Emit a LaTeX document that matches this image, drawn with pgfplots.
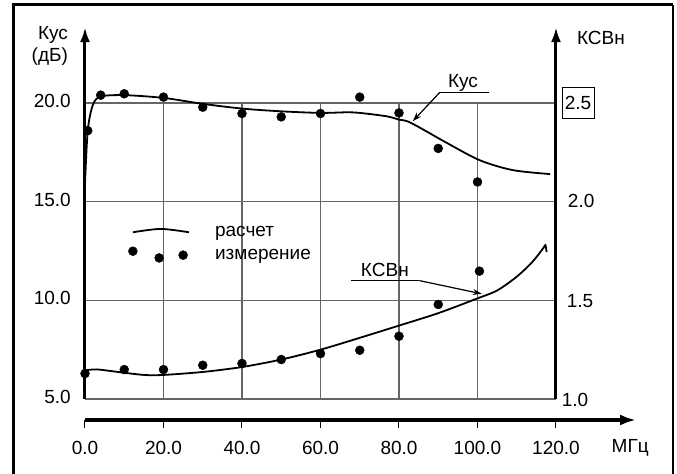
\documentclass[border=0pt]{standalone}
\usepackage{pgfplots}
\pgfplotsset{compat=1.18}
\usepackage{fontspec}
\setmainfont{Liberation Sans}
\usetikzlibrary{arrows.meta}

\begin{document}
\begin{tikzpicture}[every node/.append style={font=\fontsize{19}{22.5}\selectfont}]
\begin{axis}[
 x=3.925pt, y=19.73pt,
 xmin=0, xmax=120, ymin=5, ymax=20,
 clip=false,
 axis line style={draw=none},
 xtick={20,40,60,80,100}, ytick={5,10,15,20},
 xticklabels={}, yticklabels={},
 major tick length=0pt,
 tick style={draw=none},
 grid=major,
 grid style={line width=1.2pt, draw=black!60},
]
% bounding box corners
\coordinate (bl) at (axis cs:-21.656,1.199);
\coordinate (tr) at (axis cs:150.83,25.223);
% frame
\draw[line width=3pt] (axis cs:-18.27,0.5) -- (axis cs:-18.27,24.97) -- (axis cs:149.8,24.97);
\draw[line width=1.5pt] (axis cs:149.8,24.97) -- (axis cs:149.8,0.5);
% axes
\draw[line width=3pt, -{Latex[length=15pt,width=10pt]}] (axis cs:0,5) -- (axis cs:0,23.85);
\draw[line width=3pt, -{Latex[length=15pt,width=10pt]}] (axis cs:120,5) -- (axis cs:120,23.85);
\draw[line width=3.5pt, -{Latex[length=16pt,width=11pt]}] (axis cs:0,3.936) -- (axis cs:140.4,3.936);
\draw[line width=1pt] (axis cs:0,3.936) -- (axis cs:0,3.53);
\draw[line width=1pt] (axis cs:20,3.936) -- (axis cs:20,3.53);
\draw[line width=1pt] (axis cs:40,3.936) -- (axis cs:40,3.53);
\draw[line width=1pt] (axis cs:60,3.936) -- (axis cs:60,3.53);
\draw[line width=1pt] (axis cs:80,3.936) -- (axis cs:80,3.53);
\draw[line width=1pt] (axis cs:100,3.936) -- (axis cs:100,3.53);
\draw[line width=1pt] (axis cs:120,3.936) -- (axis cs:120,3.53);
% x tick labels
\node at (axis cs:0,2.52) {0.0};
\node at (axis cs:20,2.52) {20.0};
\node at (axis cs:40,2.52) {40.0};
\node at (axis cs:60,2.52) {60.0};
\node at (axis cs:80,2.52) {80.0};
\node at (axis cs:100,2.52) {100.0};
\node at (axis cs:120,2.52) {120.0};
\node at (axis cs:138.9,2.52) {МГц};
% left tick labels
\node[anchor=east, inner sep=0pt] at (axis cs:-3.57,20.1) {20.0};
\node[anchor=east, inner sep=0pt] at (axis cs:-3.57,15.1) {15.0};
\node[anchor=east, inner sep=0pt] at (axis cs:-3.57,10.1) {10.0};
\node[anchor=east, inner sep=0pt] at (axis cs:-3.57,5.1) {5.0};
% right tick labels
\node[draw, line width=0.9pt, inner sep=0pt, minimum width=32pt, minimum height=31pt] at (axis cs:125.6,20) {2.5};
\node[anchor=west, inner sep=0pt] at (axis cs:123.0,15.05) {2.0};
\node[anchor=west, inner sep=0pt] at (axis cs:122.7,9.95) {1.5};
\node[anchor=west, inner sep=0pt] at (axis cs:121.45,4.95) {1.0};
% axis titles
\node[anchor=east, align=right, inner sep=0pt] at (axis cs:-4.3,22.89) {Кус\\(дБ)};
\node[anchor=west, inner sep=0pt] at (axis cs:125.3,23.3) {КСВн};
% legend
\addplot[smooth, line width=1.8pt, black] coordinates {(12.2,13.45) (19.3,13.62) (26.5,13.45)};
\addplot[only marks, mark=*, mark size=4.5pt, black] coordinates {(12.2,12.49) (18.9,12.15) (25.0,12.29)};
\node[anchor=base west, inner sep=0pt] at (axis cs:33.1,13.24) {расчет};
\node[anchor=base west, inner sep=0pt] at (axis cs:33.1,12.06) {измерение};
% annotations
\node at (axis cs:96.3,21.0) {Кус};
\draw[line width=1.2pt] (axis cs:103,20.52) -- (axis cs:90.3,20.52);
\draw[line width=1.2pt, -{Stealth[length=9pt,width=6pt]}] (axis cs:90.3,20.52) -- (axis cs:83.5,19.08);
\node at (axis cs:76.4,11.55) {КСВн};
\draw[line width=1.2pt] (axis cs:67.7,11.0) -- (axis cs:85.2,11.0);
\draw[line width=1.2pt, -{Stealth[length=9pt,width=6pt]}] (axis cs:85.2,11.0) -- (axis cs:101.1,10.33);
% Kус calculated
\addplot[smooth, tension=0.5, line width=1.8pt, black] coordinates {
 (0,15.9) (0.7,18.6) (2,19.9) (4,20.33) (10,20.4) (20,20.26) (30,19.96) (40,19.72)
 (50,19.58) (60,19.5) (66.6,19.53) (70,19.5) (76.8,19.33) (80,19.16) (83,19.0)
 (92,18.0) (100.6,17.1) (109,16.6) (118.5,16.4)};
% Kус measured
\addplot[only marks, mark=*, mark size=4.5pt, black] coordinates {
 (0.7,18.6) (4,20.4) (10,20.47) (20,20.3) (30,19.79) (40,19.47) (50,19.3)
 (60,19.47) (70,20.3) (80,19.5) (90,17.7) (100,16.0)};
\end{axis}

\begin{axis}[
 x=3.925pt, y=197.3pt,
 xmin=0, xmax=120, ymin=1, ymax=2.5,
 clip=false, hide axis,
]
% KSVn calculated
\addplot[smooth, tension=0.5, line width=1.8pt, black] coordinates {
 (0,1.145) (3,1.15) (8,1.138) (15,1.122) (20,1.122) (30,1.137) (40,1.162)
 (50,1.2) (60,1.25) (70,1.31) (80,1.372) (90,1.435) (100,1.51) (105,1.55)
 (110,1.62) (114,1.695) (116.8,1.766) (117.3,1.78) (117.6,1.745)};
% KSVn measured
\addplot[only marks, mark=*, mark size=4.5pt, black] coordinates {
 (0,1.129) (10,1.149) (20,1.149) (30,1.171) (40,1.18) (50,1.2) (60,1.23)
 (70,1.247) (80,1.318) (90,1.479) (100.5,1.648)};
\end{axis}
\pgfresetboundingbox
\useasboundingbox (bl) rectangle (tr);
\end{tikzpicture}
\end{document}
